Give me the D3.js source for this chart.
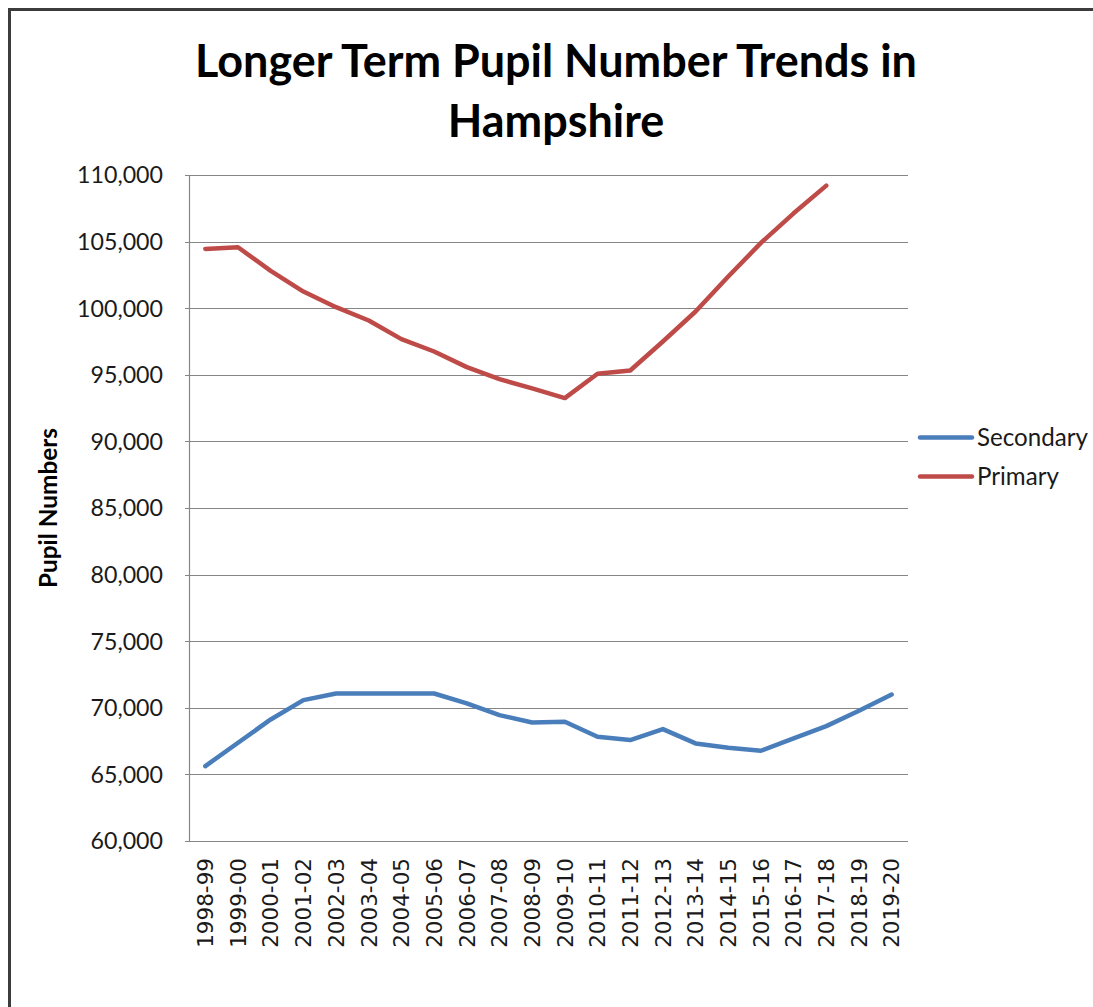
<!DOCTYPE html>
<html>
<head>
<meta charset="utf-8">
<script src="https://cdn.jsdelivr.net/npm/d3@7"></script>
<style>
  html, body { margin: 0; padding: 0; background: #fff; overflow: hidden; }
</style>
</head>
<body>
<svg id="chart" width="1093" height="1007"></svg>
<script>
// ---- Data ----
const categories = ["1998-99","1999-00","2000-01","2001-02","2002-03","2003-04","2004-05","2005-06","2006-07","2007-08","2008-09","2009-10","2010-11","2011-12","2012-13","2013-14","2014-15","2015-16","2016-17","2017-18","2018-19","2019-20"];
const secondaryValues = [65625, 67375, 69125, 70575, 71075, 71075, 71075, 71075, 70325, 69450, 68900, 68950, 67825, 67575, 68400, 67325, 67000, 66775, 67700, 68625, 69775, 71000];
const primaryValues = [104450, 104575, 102800, 101250, 100075, 99075, 97675, 96750, 95575, 94675, 93975, 93250, 95075, 95325, 97500, 99750, 102375, 104900, 107125, 109200, null, null];
const yTicks = [60000, 65000, 70000, 75000, 80000, 85000, 90000, 95000, 100000, 105000, 110000];
const seriesNames = ["Secondary", "Primary"];
const seriesColors = ["#4A7EBB", "#BE4B48"];
const titleLines = ["Longer Term Pupil Number Trends in", "Hampshire"];
const yTitle = "Pupil Numbers";

// ---- Layout ----
const svg = d3.select("#chart");
const plot = { left: 189, right: 908, top: 175, bottom: 841 };
const gridColor = "#868686";
const sansFont = "Lato, 'Open Sans', sans-serif";

function fitWidth(sel, target) {
  const node = sel.node();
  const fs = parseFloat(sel.attr("font-size"));
  const w = node.getComputedTextLength();
  sel.attr("font-size", (fs * target / w).toFixed(2));
}

// outer frame (only top and left edges visible)
svg.append("rect")
  .attr("x", 9.5).attr("y", 9.5)
  .attr("width", 1200).attr("height", 1200)
  .attr("fill", "none").attr("stroke", "#3c3c3c").attr("stroke-width", 3);

const x = d3.scaleBand().domain(categories).range([plot.left, plot.right]).paddingInner(0).paddingOuter(0);
const y = d3.scaleLinear().domain([60000, 110000]).range([plot.bottom, plot.top]);
const cx = d => x(d) + x.bandwidth() / 2;

// gridlines
svg.append("g").selectAll("line").data(yTicks).join("line")
  .attr("x1", plot.left - 4).attr("x2", plot.right)
  .attr("y1", d => Math.round(y(d)) + 0.5).attr("y2", d => Math.round(y(d)) + 0.5)
  .attr("stroke", gridColor).attr("stroke-width", 1.2);

// y axis line
svg.append("line")
  .attr("x1", plot.left + 0.5).attr("x2", plot.left + 0.5)
  .attr("y1", plot.top).attr("y2", plot.bottom)
  .attr("stroke", gridColor).attr("stroke-width", 1.2);

// y tick labels
const fmt = d3.format(",");
const yLab = svg.append("g").selectAll("text").data(yTicks).join("text")
  .attr("x", 163).attr("y", d => y(d))
  .attr("dy", "0.36em")
  .attr("text-anchor", "end")
  .attr("font-family", sansFont)
  .attr("font-size", 22)
  .attr("fill", "#1a1a1a")
  .text(d => fmt(d));
{
  const top = yLab.filter(d => d === 110000);
  const w = top.node().getComputedTextLength();
  const fs = 22 * 86 / w;
  yLab.attr("font-size", fs.toFixed(2));
}

// x labels
svg.append("g").selectAll("text").data(categories).join("text")
  .attr("transform", d => `translate(${cx(d)},858) rotate(-90)`)
  .attr("dy", "0.36em")
  .attr("text-anchor", "end")
  .attr("font-family", "'DejaVu Sans', sans-serif")
  .attr("font-size", 21.5)
  .attr("fill", "#1a1a1a")
  .text(d => d);

// y title
const yt = svg.append("text")
  .attr("transform", `translate(57,${(plot.top + plot.bottom) / 2}) rotate(-90)`)
  .attr("text-anchor", "middle")
  .attr("font-family", sansFont)
  .attr("font-weight", "bold")
  .attr("font-size", 20)
  .attr("fill", "#000")
  .text(yTitle);
fitWidth(yt, 160);

// title
const t1 = svg.append("text")
  .attr("x", 556).attr("y", 77)
  .attr("text-anchor", "middle")
  .attr("font-family", sansFont)
  .attr("font-weight", "bold")
  .attr("font-size", 44)
  .attr("fill", "#000")
  .text(titleLines[0]);
fitWidth(t1, 722);
const t2 = svg.append("text")
  .attr("x", 556).attr("y", 137)
  .attr("text-anchor", "middle")
  .attr("font-family", sansFont)
  .attr("font-weight", "bold")
  .attr("font-size", t1.attr("font-size"))
  .attr("fill", "#000")
  .text(titleLines[1]);

// lines
const seriesData = [secondaryValues, primaryValues];
const lineGen = d3.line()
  .defined(d => d.v != null)
  .x(d => cx(d.c))
  .y(d => y(d.v));
seriesData.forEach((vals, i) => {
  svg.append("path")
    .datum(categories.map((c, j) => ({ c, v: vals[j] })))
    .attr("d", lineGen)
    .attr("fill", "none")
    .attr("stroke", seriesColors[i])
    .attr("stroke-width", 4.5)
    .attr("stroke-linejoin", "round")
    .attr("stroke-linecap", "round");
});

// bottom axis line
svg.append("line")
  .attr("x1", plot.left).attr("x2", plot.right)
  .attr("y1", plot.bottom + 0.5).attr("y2", plot.bottom + 0.5)
  .attr("stroke", gridColor).attr("stroke-width", 1.2);

// legend
const legendY = [437.5, 476.5];
seriesNames.forEach((name, i) => {
  svg.append("line")
    .attr("x1", 920).attr("x2", 972)
    .attr("y1", legendY[i]).attr("y2", legendY[i])
    .attr("stroke", seriesColors[i]).attr("stroke-width", 4.5)
    .attr("stroke-linecap", "round");
  const lt = svg.append("text")
    .attr("x", 977).attr("y", legendY[i])
    .attr("dy", "0.36em")
    .attr("font-family", sansFont)
    .attr("font-size", 22)
    .attr("fill", "#1a1a1a")
    .text(name);
  if (i === 0) fitWidth(lt, 111);
  else lt.attr("font-size", svg.selectAll("text").filter(function(){return this.textContent===seriesNames[0];}).attr("font-size"));
});
</script>
</body>
</html>
